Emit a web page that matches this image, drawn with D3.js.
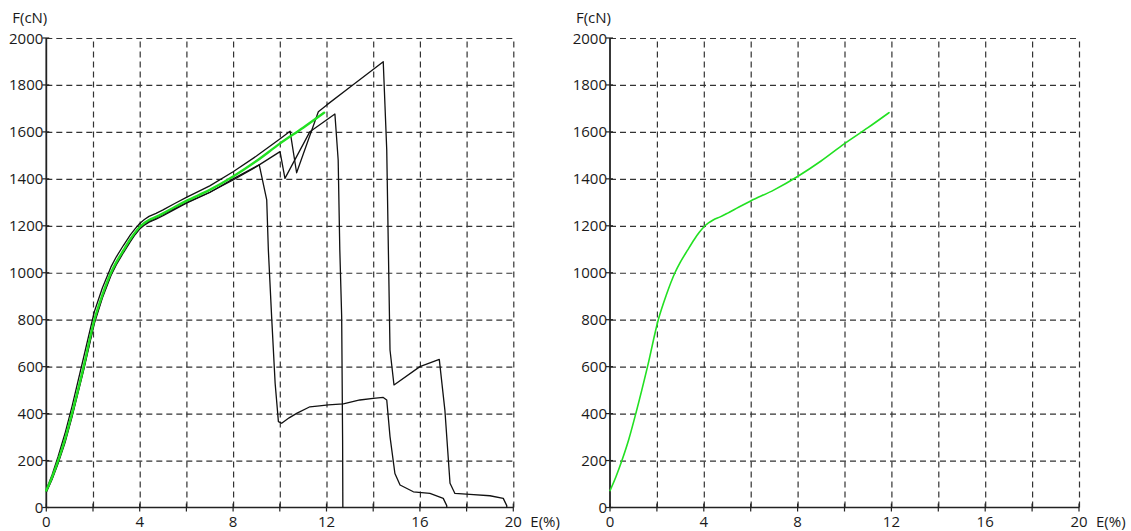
<!DOCTYPE html>
<html>
<head>
<meta charset="utf-8">
<script src="https://cdn.jsdelivr.net/npm/d3@7/dist/d3.min.js"></script>
<style>
  html, body { margin: 0; padding: 0; background: #fff; }
  svg { display: block; }
  text { font-family: "Open Sans", "DejaVu Sans", sans-serif; font-size: 15px; fill: #1a1a1a; }
</style>
</head>
<body>
<svg id="chart" width="1131" height="531"></svg>
<script>
// ---- data (E in %, F in cN) ----
const xTickLabels = [0, 4, 8, 12, 16, 20];
const xGrid = [2, 4, 6, 8, 10, 12, 14, 16, 18, 20];
const yTickLabels = [0, 200, 400, 600, 800, 1000, 1200, 1400, 1600, 1800, 2000];
const xTitle = "E(%)";
const yTitle = "F(cN)";

// mean curve (green), shown in both panels
const meanCurve = [
  [0,72],[0.25,130],[0.5,198],[0.8,290],[1.1,400],[1.6,600],[2.06,800],[2.4,905],
  [2.77,1000],[3.0,1045],[3.3,1095],[3.6,1143],[3.8,1171],[4.0,1195],[4.2,1212],[4.4,1225],
  [4.7,1238],[5,1253],[5.5,1280],[6,1306],[7,1353],[8,1410],[9,1476],[10,1550],[11,1618],[11.9,1682]
];

// individual test curves (black), left panel
const test1 = [
  [0,65],[0.25,120],[0.5,186],[0.8,276],[1.1,385],[1.6,585],[2.06,785],[2.4,892],[2.77,988],
  [3.0,1034],[3.3,1085],[3.6,1132],[3.8,1162],[4.0,1186],[4.2,1203],[4.4,1215],[4.7,1228],[5,1243],
  [5.5,1270],[6,1296],[7,1342],[8,1400],[9.12,1460],[9.44,1310],[9.51,1097],[9.65,813],[9.8,529],[9.94,366],
  [10.08,359],[10.4,382],[10.72,401],[11.29,429],[11.7,433],[12.08,437],[12.72,441],
  [13.43,458],[14.0,465],[14.43,469],[14.58,458],[14.72,302],[14.93,145],[15.15,96],
  [15.72,67],[16.43,60],[17.0,39],[17.15,8],[17.15,0]
];
const test2 = [
  [0,68],[0.25,125],[0.5,192],[0.8,283],[1.1,392],[1.6,592],[2.06,792],[2.4,898],[2.77,994],
  [3.0,1040],[3.3,1090],[3.6,1138],[3.8,1166],[4.0,1190],[4.2,1207],[4.4,1219],[4.7,1232],[5,1247],
  [5.5,1274],[6,1299],[7,1343],[8,1395],[9,1452],[10.01,1516],[10.22,1402],[11.29,1601],[12.36,1676],
  [12.5,1480],[12.57,1097],[12.65,813],[12.69,288],[12.7,0]
];
const test3 = [
  [0,76],[0.25,140],[0.5,215],[0.8,315],[1.1,430],[1.6,640],[2.06,835],[2.4,935],[2.77,1025],
  [3.0,1068],[3.3,1116],[3.6,1161],[3.8,1187],[4.0,1210],[4.2,1227],[4.4,1240],[4.7,1253],[5,1268],
  [5.5,1295],[6,1321],[7,1370],[8,1430],[9,1497],[10,1570],[10.44,1603],[10.72,1426],[11.65,1686],[12.0,1714],
  [13,1790],[14.43,1899],[14.58,1523],[14.65,1097],[14.72,671],[14.89,522],[16.0,600],
  [16.83,631],[17.07,415],[17.29,103],[17.5,60],[18.14,56],[19.0,50],[19.57,39],[19.72,8],[19.72,0]
];

const leftTests = [test1, test2, test3];

// ---- drawing ----
const svg = d3.select("#chart");
const yTop = 38, yBottom = 507.5;

function panel(x0, x1, tests, meanWidth) {
  const x = d3.scaleLinear().domain([0, 20]).range([x0, x1]);
  const y = d3.scaleLinear().domain([0, 2000]).range([yBottom, yTop]);
  const g = svg.append("g");

  // vertical dashed grid
  g.append("g").attr("transform", `translate(0,${yBottom})`)
    .call(d3.axisBottom(x).tickValues(xGrid).tickSize(-(yBottom - yTop)).tickFormat(""))
    .call(a => a.select(".domain").remove())
    .call(a => a.selectAll(".tick line").attr("stroke", "#333").attr("stroke-width", 1.2).attr("stroke-dasharray", "6,4"));
  // horizontal dashed grid
  g.append("g").attr("transform", `translate(${x0},0)`)
    .call(d3.axisLeft(y).tickValues(yTickLabels.slice(1)).tickSize(-(x1 - x0)).tickFormat(""))
    .call(a => a.select(".domain").remove())
    .call(a => a.selectAll(".tick line").attr("stroke", "#333").attr("stroke-width", 1.2).attr("stroke-dasharray", "6,4"));

  // axes lines
  g.append("line").attr("x1", x(0)).attr("x2", x(20)).attr("y1", y(0)).attr("y2", y(0))
    .attr("stroke", "#222").attr("stroke-width", 1.6);
  g.append("line").attr("x1", x(0)).attr("x2", x(0)).attr("y1", y(0)).attr("y2", y(2000))
    .attr("stroke", "#222").attr("stroke-width", 1.8);

  // cross ticks
  g.selectAll(".xt").data([0].concat(xGrid)).enter().append("line")
    .attr("x1", d => x(d)).attr("x2", d => x(d)).attr("y1", y(0) - 4).attr("y2", y(0) + 4)
    .attr("stroke", "#222").attr("stroke-width", 1.2);
  g.selectAll(".yt").data(yTickLabels).enter().append("line")
    .attr("x1", x(0) - 4).attr("x2", x(0) + 3).attr("y1", d => y(d)).attr("y2", d => y(d))
    .attr("stroke", "#222").attr("stroke-width", 1.2);

  // tick labels
  g.selectAll(".xl").data(xTickLabels).enter().append("text")
    .attr("x", d => x(d)).attr("y", 527).attr("text-anchor", "middle").text(d => d);
  g.selectAll(".yl").data(yTickLabels).enter().append("text")
    .attr("x", x(0) - 3).attr("y", d => y(d) + 5.5).attr("text-anchor", "end").text(d => d);

  // titles
  g.append("text").attr("x", x(0) + 1).attr("y", 23).attr("text-anchor", "end").text(yTitle);
  g.append("text").attr("x", x(20) + 17).attr("y", 527).attr("text-anchor", "start").text(xTitle);

  const lineLin = d3.line().x(d => x(d[0])).y(d => y(d[1]));
  const lineSmooth = d3.line().x(d => x(d[0])).y(d => y(d[1])).curve(d3.curveMonotoneX);

  tests.forEach(t => {
    g.append("path").attr("d", lineLin(t)).attr("fill", "none")
      .attr("stroke", "#111").attr("stroke-width", 1.3).attr("stroke-linejoin", "round");
  });
  g.append("path").attr("d", lineSmooth(meanCurve)).attr("fill", "none")
    .attr("stroke", "#22e022").attr("stroke-width", meanWidth).attr("stroke-linecap", "round");
}

panel(46.3, 513.3, leftTests, 2.4);
panel(610, 1079, [], 1.6);
</script>
</body>
</html>
